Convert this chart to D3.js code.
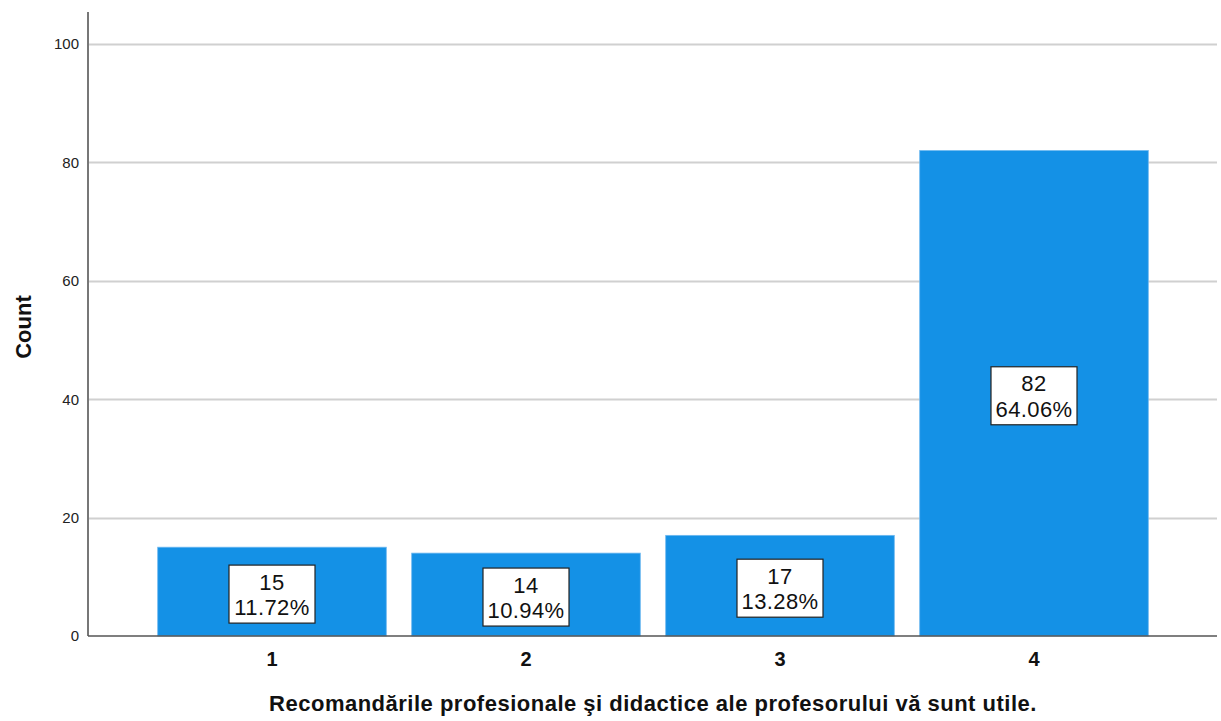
<!doctype html>
<html lang="ro">
<head>
<meta charset="utf-8">
<script src="https://cdn.jsdelivr.net/npm/d3@7"></script>
<style>
	body{ margin:0; padding:0; background:#fff; }
	svg{ display:block; font-family:"Liberation Sans", Arial, sans-serif; }
</style>
</head>
<body>
<svg id="chartSvg"></svg>
<script>
var categories = ["1", "2", "3", "4"];
var counts = [15, 14, 17, 82];
var percents = ["11.72%", "10.94%", "13.28%", "64.06%"];
var yTicks = [0, 20, 40, 60, 80, 100];

var width = 1221, height = 721;
// note: "top" is taken by window.top, so plotTop
var left = 88, right = 1217, plotTop = 12, bottom = 636;
var font = "Liberation Sans, Arial, sans-serif";

var svg = d3.select("#chartSvg").attr("width", width).attr("height", height);

var yScale = d3.scaleLinear().domain([0, 100]).range([bottom, 44]);
var xScale = d3.scaleBand().domain(categories).range([145, 1161]).paddingInner(0.1).paddingOuter(0.05);

// gridlines
svg.append("g").selectAll("line")
	.data(yTicks.filter(function(d){ return d > 0; }))
	.enter().append("line")
	.attr("x1", left).attr("x2", right)
	.attr("y1", function(d){ return Math.round(yScale(d)) + 0.5; })
	.attr("y2", function(d){ return Math.round(yScale(d)) + 0.5; })
	.style("stroke", "#d0d0d0")
	.style("stroke-width", 2);

// bars
svg.append("g").selectAll("rect")
	.data(counts)
	.enter().append("rect")
	.attr("x", function(d, i){ return xScale(categories[i]); })
	.attr("y", function(d){ return yScale(d); })
	.attr("width", xScale.bandwidth())
	.attr("height", function(d){ return bottom - yScale(d); })
	.attr("fill", "#1491e6")
	.style("stroke", "#6db8f0")
	.style("stroke-width", 0.8);

// y axis
var yAxis = d3.axisLeft(yScale).tickValues(yTicks).tickSize(0).tickPadding(9);
var gy = svg.append("g").attr("transform", "translate(" + left + ",0)").call(yAxis);
gy.select(".domain").remove();
gy.attr("font-size", 15);
gy.selectAll("text").attr("font-size", 15).attr("fill", "#222").style("font-family", font);
svg.append("line")
	.attr("x1", left).attr("x2", left).attr("y1", plotTop).attr("y2", bottom)
	.style("stroke", "#777").style("stroke-width", 2);

// x baseline
svg.append("line")
	.attr("x1", left).attr("x2", right).attr("y1", bottom).attr("y2", bottom)
	.style("stroke", "#555").style("stroke-width", 1.5);

// x axis labels
var xAxis = d3.axisBottom(xScale).tickSize(0).tickPadding(16);
var gx = svg.append("g").attr("transform", "translate(0," + bottom + ")").call(xAxis);
gx.select(".domain").remove();
gx.selectAll("text").attr("font-size", 20).attr("font-weight", "bold").attr("fill", "#111")
	.style("font-family", font);

// value labels
var lab = svg.append("g").selectAll("g")
	.data(counts)
	.enter().append("g")
	.attr("transform", function(d, i){
		var cx = xScale(categories[i]) + xScale.bandwidth() / 2;
		var cy = (yScale(d) + bottom) / 2 + 2.5;
		return "translate(" + cx + "," + cy + ")";
	});
lab.append("rect")
	.attr("x", -43).attr("y", -29).attr("width", 86).attr("height", 58)
	.attr("fill", "#fff").style("stroke", "#222").style("stroke-width", 1.2);
lab.append("text")
	.attr("text-anchor", "middle").attr("y", -4.5)
	.attr("font-size", 22).attr("fill", "#111").style("letter-spacing", "0.4px")
	.text(function(d){ return d; });
lab.append("text")
	.attr("text-anchor", "middle").attr("y", 21)
	.attr("font-size", 22).attr("fill", "#111").style("letter-spacing", "0.4px")
	.text(function(d, i){ return percents[i]; });

// axis titles
svg.append("text")
	.attr("transform", "translate(31,327) rotate(-90)")
	.attr("text-anchor", "middle")
	.attr("font-size", 22).attr("font-weight", "bold").attr("fill", "#111")
	.text("Count");
svg.append("text")
	.attr("x", 653).attr("y", 711)
	.attr("text-anchor", "middle")
	.attr("font-size", 22).attr("font-weight", "bold").attr("fill", "#111")
	.style("letter-spacing", "0.5px")
	.text("Recomandările profesionale şi didactice ale profesorului vă sunt utile.");
</script>
</body>
</html>
